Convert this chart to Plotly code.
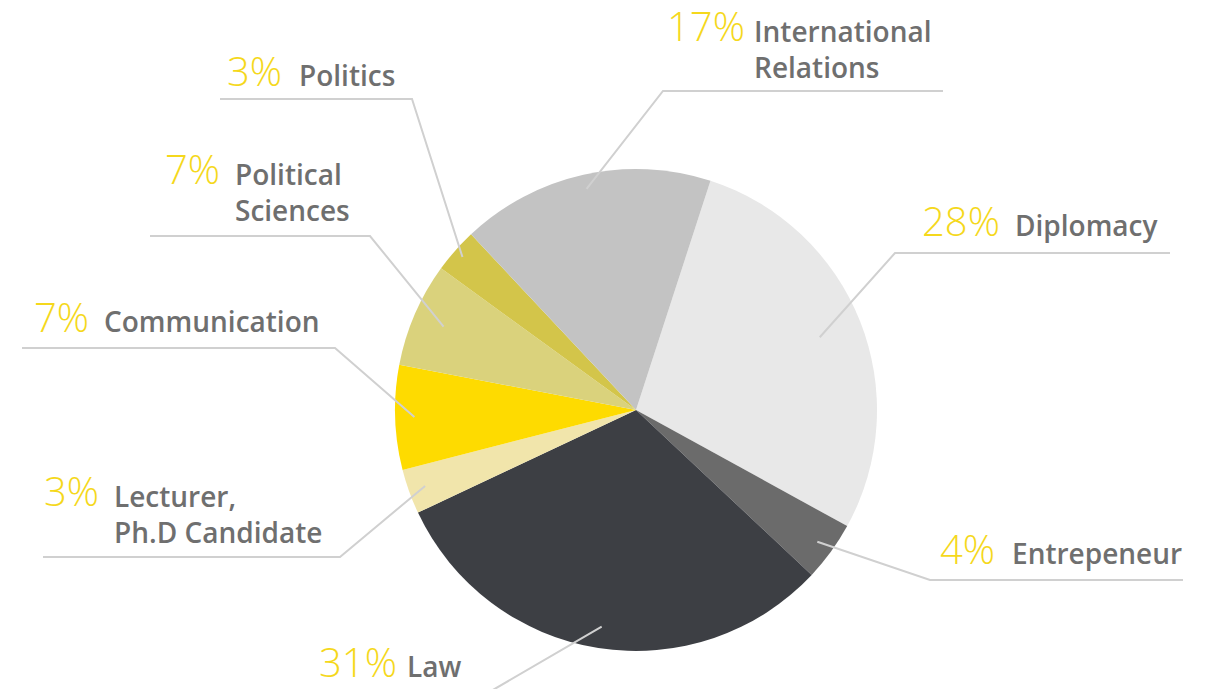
import math
import plotly.graph_objects as go

# ---------------- data ----------------
labels = ["Diplomacy", "Entrepeneur", "Law", "Lecturer, Ph.D Candidate",
          "Communication", "Political Sciences", "Politics", "International Relations"]
label_lines = [["Diplomacy"], ["Entrepeneur"], ["Law"], ["Lecturer,", "Ph.D Candidate"],
               ["Communication"], ["Political", "Sciences"], ["Politics"], ["International", "Relations"]]
values = [28, 4, 31, 3, 7, 7, 3, 17]
pct_text = ["28%", "4%", "31%", "3%", "7%", "7%", "3%", "17%"]

# ---------------- style / layout ----------------
colors = ["#e8e8e8", "#6b6b6b", "#3d3f44", "#f1e5ab", "#fedb00", "#dad27c", "#d3c54a", "#c3c3c3"]
W, H = 1217, 689
OFF = 8  # page body margin offset
CX, CY, R = 636, 410, 241
ROTATION = 18
PCT_COLOR = "#f5d81c"
TXT_COLOR = "#6f6f6f"
LINE_COLOR = "#d0d0d0"
PCT_SIZE = 40
TXT_SIZE = 28
FONT = "Open Sans"

# label placement: pct x, text x, first baseline y, leader start radius frac, elbow (x, y), end x
placement = [
    dict(px=920, tx=1013, base=237, rf=0.82, ex=895, ey=253, endx=1170),
    dict(px=938, tx=1010, base=565, rf=0.93, ex=930, ey=580, endx=1183),
    dict(px=317, tx=405, base=678, rf=0.91, ex=455, ey=712, endx=250),
    dict(px=42, tx=112, base=507, rf=0.93, ex=340, ey=557, endx=43),
    dict(px=32, tx=102, base=333, rf=0.92, ex=335, ey=348, endx=22),
    dict(px=163, tx=233, base=185, rf=0.87, ex=370, ey=236, endx=150),
    dict(px=225, tx=297, base=87, rf=0.96, ex=412, ey=99, endx=220),
    dict(px=665, tx=752, base=42, rf=0.94, ex=663, ey=91, endx=943),
]


def fx(x):
    return (x - OFF) / W


def fy(y):
    return 1 - (y - OFF) / H


fig = go.Figure()
fig.add_trace(go.Pie(
    labels=labels, values=values, sort=False, direction="clockwise",
    rotation=ROTATION, textinfo="none", hoverinfo="label+percent",
    marker=dict(colors=colors, line=dict(width=0)),
    domain=dict(x=[fx(CX - R), fx(CX + R)], y=[fy(CY + R), fy(CY - R)]),
    showlegend=False,
))

total = sum(values)
cum = 0
shapes = []
annotations = []
LINE_H = TXT_SIZE * 1.3
for i, v in enumerate(values):
    mid = ROTATION + (cum + v / 2) / total * 360
    cum += v
    p = placement[i]
    a = math.radians(mid)
    sx = CX + p["rf"] * R * math.sin(a)
    sy = CY - p["rf"] * R * math.cos(a)
    path = f"M {fx(sx)} {fy(sy)} L {fx(p['ex'])} {fy(p['ey'])} L {fx(p['endx'])} {fy(p['ey'])}"
    shapes.append(dict(type="path", path=path, xref="paper", yref="paper",
                       line=dict(color=LINE_COLOR, width=2), layer="above"))
    # percentage
    annotations.append(dict(
        x=fx(p["px"]), y=fy(p["base"] + 0.29 * PCT_SIZE + 1), xref="paper", yref="paper",
        xanchor="left", yanchor="bottom", showarrow=False, text=pct_text[i],
        font=dict(family=FONT, size=PCT_SIZE, color=PCT_COLOR, weight=300)))
    # label (possibly multi-line)
    n = len(label_lines[i])
    last_base = p["base"] + (n - 1) * LINE_H
    annotations.append(dict(
        x=fx(p["tx"]), y=fy(last_base + 0.29 * TXT_SIZE + 1), xref="paper", yref="paper",
        xanchor="left", yanchor="bottom", align="left", showarrow=False,
        text="<br>".join(label_lines[i]),
        font=dict(family=FONT, size=TXT_SIZE, color=TXT_COLOR, weight=600)))

fig.update_layout(
    width=W, height=H, margin=dict(l=0, r=0, t=0, b=0),
    paper_bgcolor="white", plot_bgcolor="white",
    shapes=shapes, annotations=annotations,
)
fig.write_html("out.html")
